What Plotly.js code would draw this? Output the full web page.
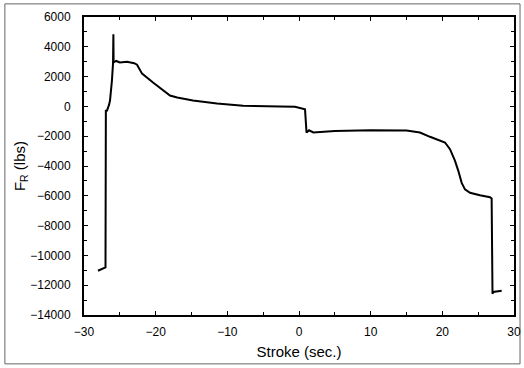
<!DOCTYPE html>
<html>
<head>
<meta charset="utf-8">
<script src="https://cdn.plot.ly/plotly-3.0.1.min.js"></script>
<style>html,body{margin:0;padding:0;background:#fff;}</style>
</head>
<body>
<div id="chart" style="width:524px;height:368px;"></div>
<script>
// Stroke time (sec.)
const strokeSec = [-28.05, -27.35, -27.07, -27.0, -26.95, -26.79, -26.5, -26.37, -26.1, -25.95, -25.9, -25.87,
  -25.5, -25.0, -24.0, -23.0, -22.6, -21.9, -20.37, -18.0, -17.0, -14.8, -11.44, -7.8, -2.65, -0.56, 0.84,
  1.0, 1.05, 1.4, 2.0, 5.0, 10.0, 15.0, 16.88, 18.28, 19.67, 20.37, 21.07, 21.77, 22.24, 22.7, 23.16, 23.86,
  25.25, 26.65, 26.88, 27.0, 27.1, 28.28];
// Force F_R (lbs)
const forceLbs = [-11030, -10900, -10820, -10800, -300, -280, 120, 390, 1750, 2890, 4850, 2960,
  3050, 2950, 3000, 2900, 2800, 2200, 1600, 730, 600, 400, 190, 50, 0, -30, -200,
  -1100, -1760, -1600, -1750, -1650, -1600, -1620, -1750, -2040, -2270, -2420, -2870, -3660, -4340, -5130, -5570, -5800,
  -5960, -6100, -6180, -12580, -12450, -12380];
const xTicks = [-30, -20, -10, 0, 10, 20, 30];
const yTicks = [6000, 4000, 2000, 0, -2000, -4000, -6000, -8000, -10000, -12000, -14000];

const fmt = v => String(v).replace('-', '\u2212');
const font = {family: 'Liberation Sans, Arial, sans-serif', color: '#000'};
const data = [{
  x: strokeSec, y: forceLbs, type: 'scatter', mode: 'lines',
  line: {color: '#000', width: 2}, hoverinfo: 'skip'
}];
const layout = {
  width: 524, height: 368,
  margin: {l: 84, r: 10, t: 17, b: 53},
  paper_bgcolor: '#fff', plot_bgcolor: '#fff',
  showlegend: false,
  font: Object.assign({size: 11}, font),
  xaxis: {
    range: [-30, 30], tickvals: xTicks, ticktext: xTicks.map(fmt),
    ticks: 'inside', ticklen: 4, tickcolor: '#000', tickwidth: 1,
    minor: {dtick: 5, ticks: 'inside', ticklen: 3, tickcolor: '#000'},
    showline: true, linecolor: '#000', linewidth: 2, mirror: 'allticks',
    showgrid: false, zeroline: false, ticklabelstandoff: 5,
    tickfont: Object.assign({size: 12}, font),
    title: {text: 'Stroke (sec.)', font: Object.assign({size: 15}, font), standoff: 8}
  },
  yaxis: {
    range: [-14000, 6000], tickvals: yTicks, ticktext: yTicks.map(fmt),
    ticks: 'inside', ticklen: 4, tickcolor: '#000', tickwidth: 1,
    minor: {dtick: 1000, ticks: 'inside', ticklen: 3, tickcolor: '#000'},
    showline: true, linecolor: '#000', linewidth: 2, mirror: 'allticks',
    showgrid: false, zeroline: false, ticklabelstandoff: 9,
    tickfont: Object.assign({size: 12}, font),
    title: {text: 'F<sub>R</sub> (lbs)', font: Object.assign({size: 15}, font), standoff: 1}
  },
  shapes: [{
    type: 'rect', xref: 'paper', yref: 'paper',
    x0: -0.184, x1: 1.014, y0: -0.164, y1: 1.044,
    line: {color: '#666', width: 1}, fillcolor: 'rgba(0,0,0,0)', layer: 'below'
  }]
};
Plotly.newPlot('chart', data, layout, {displayModeBar: false, staticPlot: true});
</script>
</body>
</html>
